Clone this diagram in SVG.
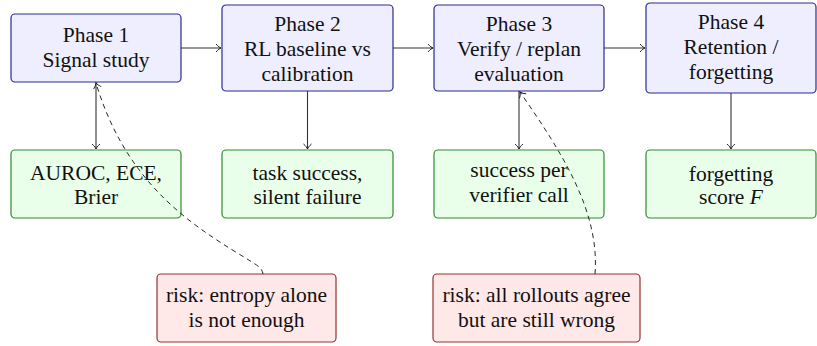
<svg xmlns="http://www.w3.org/2000/svg" width="817" height="346" viewBox="0 0 817 346" font-family="Liberation Serif">
<defs>
  <marker id="arr" viewBox="-6 -5 8 10" markerWidth="8" markerHeight="10" refX="0" refY="0" orient="auto" markerUnits="userSpaceOnUse">
    <path d="M-5,-4 C-3,-1.5 -1,-0.4 0,0 C-1,0.4 -3,1.5 -5,4" fill="none" stroke="#222" stroke-width="1"/>
  </marker>
</defs>
<g id="phase1">
  <rect x="11" y="14" width="170" height="68" rx="4" fill="#eeeeff" stroke="#2a2a90" stroke-width="1.2"/>
  <text x="96" y="42" font-family="Liberation Serif" font-size="21.5" text-anchor="middle" fill="#111">Phase 1</text>
  <text x="96" y="67" font-family="Liberation Serif" font-size="21.5" text-anchor="middle" fill="#111">Signal study</text>
</g>
<g id="phase2">
  <rect x="222" y="5" width="171" height="86" rx="4" fill="#eeeeff" stroke="#2a2a90" stroke-width="1.2"/>
  <text x="307.5" y="31" font-family="Liberation Serif" font-size="21.5" text-anchor="middle" fill="#111">Phase 2</text>
  <text x="307.5" y="55.5" font-family="Liberation Serif" font-size="21.5" text-anchor="middle" fill="#111">RL baseline vs</text>
  <text x="307.5" y="81" font-family="Liberation Serif" font-size="21.5" text-anchor="middle" fill="#111">calibration</text>
</g>
<g id="phase3">
  <rect x="434" y="5" width="170" height="86" rx="4" fill="#eeeeff" stroke="#2a2a90" stroke-width="1.2"/>
  <text x="519" y="31" font-family="Liberation Serif" font-size="21.5" text-anchor="middle" fill="#111">Phase 3</text>
  <text x="519" y="55.5" font-family="Liberation Serif" font-size="21.5" text-anchor="middle" fill="#111">Verify / replan</text>
  <text x="519" y="81" font-family="Liberation Serif" font-size="21.5" text-anchor="middle" fill="#111">evaluation</text>
</g>
<g id="phase4">
  <rect x="646" y="3" width="170" height="90" rx="4" fill="#eeeeff" stroke="#2a2a90" stroke-width="1.2"/>
  <text x="731" y="28.5" font-family="Liberation Serif" font-size="21.5" text-anchor="middle" fill="#111">Phase 4</text>
  <text x="731" y="53.5" font-family="Liberation Serif" font-size="21.5" text-anchor="middle" fill="#111">Retention /</text>
  <text x="731" y="78.5" font-family="Liberation Serif" font-size="21.5" text-anchor="middle" fill="#111">forgetting</text>
</g>
<g id="metric1">
  <rect x="11" y="150" width="170" height="68" rx="4" fill="#eaffea" stroke="#2e8b2e" stroke-width="1.2"/>
  <text x="96" y="180" font-family="Liberation Serif" font-size="21.5" text-anchor="middle" fill="#111">AUROC, ECE,</text>
  <text x="96" y="204" font-family="Liberation Serif" font-size="21.5" text-anchor="middle" fill="#111">Brier</text>
</g>
<g id="metric2">
  <rect x="222" y="150" width="171" height="68" rx="4" fill="#eaffea" stroke="#2e8b2e" stroke-width="1.2"/>
  <text x="307.5" y="180" font-family="Liberation Serif" font-size="21.5" text-anchor="middle" fill="#111">task success,</text>
  <text x="307.5" y="204" font-family="Liberation Serif" font-size="21.5" text-anchor="middle" fill="#111">silent failure</text>
</g>
<g id="metric3">
  <rect x="434" y="150" width="170" height="68" rx="4" fill="#eaffea" stroke="#2e8b2e" stroke-width="1.2"/>
  <text x="519" y="177" font-family="Liberation Serif" font-size="21.5" text-anchor="middle" fill="#111">success per</text>
  <text x="519" y="201.5" font-family="Liberation Serif" font-size="21.5" text-anchor="middle" fill="#111">verifier call</text>
</g>
<g id="metric4">
  <rect x="646" y="150" width="170" height="68" rx="4" fill="#eaffea" stroke="#2e8b2e" stroke-width="1.2"/>
  <text x="731" y="181" font-family="Liberation Serif" font-size="21.5" text-anchor="middle" fill="#111">forgetting</text>
  <text x="731" y="204" font-family="Liberation Serif" font-size="21.5" text-anchor="middle" fill="#111">score <tspan font-style="italic">F</tspan></text>
</g>
<g id="risk1">
  <rect x="157" y="274" width="179" height="68" rx="4" fill="#ffe8e8" stroke="#983030" stroke-width="1.2"/>
  <text x="246.5" y="302" font-family="Liberation Serif" font-size="21.5" text-anchor="middle" fill="#111">risk: entropy alone</text>
  <text x="246.5" y="326.5" font-family="Liberation Serif" font-size="21.5" text-anchor="middle" fill="#111">is not enough</text>
</g>
<g id="risk2">
  <rect x="433" y="274" width="207" height="68" rx="4" fill="#ffe8e8" stroke="#983030" stroke-width="1.2"/>
  <text x="536.5" y="302" font-family="Liberation Serif" font-size="21.5" text-anchor="middle" fill="#111">risk: all rollouts agree</text>
  <text x="536.5" y="326.5" font-family="Liberation Serif" font-size="21.5" text-anchor="middle" fill="#111">but are still wrong</text>
</g>
<g id="connectors" fill="none">
  <g stroke="#333" stroke-width="1.1">
    <line x1="181" y1="48" x2="221" y2="48" marker-end="url(#arr)"/>
    <line x1="393" y1="48" x2="433" y2="48" marker-end="url(#arr)"/>
    <line x1="604" y1="48" x2="645" y2="48" marker-end="url(#arr)"/>
    <line x1="96" y1="82" x2="96" y2="149" marker-end="url(#arr)"/>
    <line x1="307.5" y1="91" x2="307.5" y2="149" marker-end="url(#arr)"/>
    <line x1="519" y1="91" x2="519" y2="149" marker-end="url(#arr)"/>
    <line x1="731" y1="93" x2="731" y2="149" marker-end="url(#arr)"/>
  </g>
  <g stroke="#111" stroke-width="0.9" stroke-dasharray="5 4">
    <path d="M263,274 C262,268 258,266 252,262 C200,230 128,190 96,83" marker-end="url(#arr)"/>
    <path d="M595,274 C600,210 560,150 520,92" marker-end="url(#arr)"/>
  </g>
</g>
</svg>
